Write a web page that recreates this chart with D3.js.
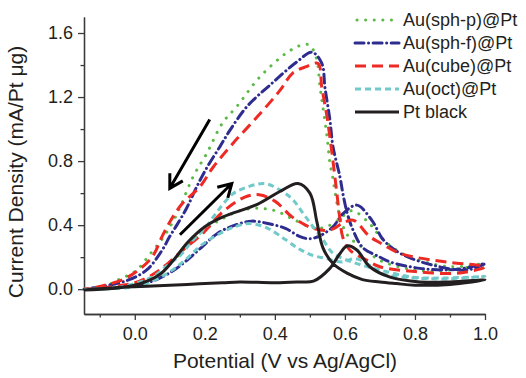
<!DOCTYPE html>
<html>
<head>
<meta charset="utf-8">
<script src="https://d3js.org/d3.v7.min.js"></script>
<style>
  body { margin: 0; background: white; }
  text { font-family: "Liberation Sans", Arial, sans-serif; fill: #231f20; }
</style>
</head>
<body>
<div id="chart"></div>
<script>
var w = 526;
var h = 378;

// series names, in legend order
var names = ["Au(sph-p)@Pt", "Au(sph-f)@Pt", "Au(cube)@Pt", "Au(oct)@Pt", "Pt black"];

// [potential, current density], forward then backward scan
var sphP = [
  [-0.145, 0.0], [-0.1, 0.005], [-0.05, 0.01], [0.0, 0.03], [0.05, 0.08], [0.1, 0.16], [0.15, 0.27],
  [0.2, 0.37], [0.25, 0.44], [0.3, 0.49], [0.35, 0.505], [0.4, 0.49], [0.45, 0.44], [0.5, 0.39],
  [0.54, 0.385], [0.58, 0.43], [0.62, 0.49], [0.67, 0.41], [0.7, 0.33], [0.75, 0.24], [0.8, 0.19],
  [0.9, 0.14], [1.0, 0.16],
  [0.9, 0.12], [0.8, 0.12], [0.7, 0.18], [0.66, 0.245], [0.61, 0.33], [0.59, 0.42], [0.577, 0.54],
  [0.565, 0.7], [0.557, 0.79], [0.549, 0.95], [0.537, 1.14], [0.529, 1.26], [0.52, 1.43], [0.505, 1.51],
  [0.49, 1.53], [0.443, 1.49], [0.357, 1.325], [0.291, 1.14], [0.251, 1.04], [0.206, 0.85],
  [0.166, 0.7], [0.129, 0.51], [0.106, 0.41], [0.077, 0.31], [0.04, 0.21], [0.006, 0.12],
  [-0.049, 0.056], [-0.094, 0.012], [-0.145, 0.0]
];

var sphF = [
  [-0.145, 0.0], [-0.1, 0.003], [-0.05, 0.008], [0.0, 0.025], [0.05, 0.05], [0.106, 0.11], [0.143, 0.17],
  [0.19, 0.26], [0.237, 0.35], [0.286, 0.4], [0.334, 0.425], [0.38, 0.41], [0.43, 0.38], [0.47, 0.33],
  [0.5, 0.315], [0.53, 0.335], [0.566, 0.39], [0.594, 0.47], [0.634, 0.525], [0.677, 0.43],
  [0.709, 0.31], [0.757, 0.225], [0.851, 0.15], [0.949, 0.12], [1.0, 0.16],
  [0.94, 0.13], [0.891, 0.12], [0.814, 0.13], [0.729, 0.17], [0.7, 0.2], [0.651, 0.26], [0.623, 0.37],
  [0.606, 0.48], [0.594, 0.6], [0.586, 0.7], [0.566, 0.89], [0.557, 1.06], [0.543, 1.26], [0.534, 1.41],
  [0.506, 1.48], [0.463, 1.42], [0.386, 1.275], [0.32, 1.14], [0.271, 0.99], [0.243, 0.89],
  [0.206, 0.76], [0.177, 0.64], [0.149, 0.51], [0.12, 0.4], [0.1, 0.33], [0.077, 0.24], [0.034, 0.12],
  [-0.02, 0.056], [-0.086, 0.02], [-0.145, 0.0]
];

var cube = [
  [-0.145, 0.0], [-0.1, 0.005], [-0.05, 0.02], [0.0, 0.04], [0.05, 0.09], [0.094, 0.16], [0.14, 0.25],
  [0.19, 0.34], [0.25, 0.48], [0.314, 0.575], [0.355, 0.59], [0.4, 0.55], [0.45, 0.45], [0.51, 0.38],
  [0.557, 0.37], [0.6, 0.42], [0.625, 0.43], [0.67, 0.33], [0.7, 0.29], [0.75, 0.23], [0.8, 0.2],
  [0.89, 0.17], [1.0, 0.14],
  [0.92, 0.1], [0.8, 0.11], [0.7, 0.14], [0.663, 0.18], [0.614, 0.245], [0.594, 0.325], [0.585, 0.45],
  [0.577, 0.6], [0.563, 0.85], [0.549, 1.075], [0.534, 1.26], [0.523, 1.41], [0.49, 1.39], [0.451, 1.35],
  [0.414, 1.24], [0.349, 1.075], [0.28, 0.91], [0.223, 0.76], [0.186, 0.64], [0.134, 0.53], [0.1, 0.42],
  [0.077, 0.325], [0.049, 0.2], [-0.02, 0.075], [-0.094, 0.02], [-0.145, 0.0]
];

var oct = [
  [-0.145, 0.0], [-0.05, 0.005], [0.02, 0.025], [0.094, 0.1], [0.143, 0.18], [0.19, 0.275], [0.237, 0.34],
  [0.286, 0.39], [0.33, 0.41], [0.38, 0.38], [0.43, 0.31], [0.47, 0.25], [0.51, 0.21], [0.55, 0.19],
  [0.59, 0.17], [0.63, 0.19], [0.67, 0.15], [0.7, 0.1], [0.8, 0.07], [0.9, 0.065], [1.0, 0.08],
  [0.891, 0.07], [0.794, 0.075], [0.7, 0.12], [0.634, 0.16], [0.566, 0.225], [0.537, 0.31], [0.509, 0.39],
  [0.48, 0.475], [0.451, 0.56], [0.414, 0.62], [0.37, 0.66], [0.3, 0.62], [0.277, 0.59], [0.237, 0.49],
  [0.2, 0.38], [0.163, 0.3], [0.134, 0.22], [0.094, 0.15], [0.049, 0.075], [-0.05, 0.01], [-0.145, 0.0]
];

var ptBlack = [
  [-0.145, -0.005], [-0.05, 0.01], [0.05, 0.02], [0.15, 0.03], [0.25, 0.04], [0.3, 0.045], [0.4, 0.04],
  [0.47, 0.045], [0.51, 0.05], [0.557, 0.13], [0.585, 0.22], [0.606, 0.27], [0.634, 0.245], [0.671, 0.14],
  [0.729, 0.075], [0.814, 0.045], [0.9, 0.045], [1.0, 0.058],
  [0.9, 0.03], [0.8, 0.025], [0.747, 0.035], [0.7, 0.045], [0.65, 0.06], [0.606, 0.1], [0.566, 0.16],
  [0.537, 0.26], [0.52, 0.42], [0.5, 0.6], [0.466, 0.66], [0.414, 0.61], [0.35, 0.53], [0.25, 0.45],
  [0.2, 0.39], [0.15, 0.29], [0.11, 0.18], [0.07, 0.09], [0.0, 0.025], [-0.145, -0.005]
];

var series = [sphP, sphF, cube, oct, ptBlack];

// scan direction arrows: [from, to] in data units
var arrows = [
  [[0.214, 1.06], [0.1, 0.63]],
  [[0.129, 0.34], [0.277, 0.66]]
];

var xTicks = [0.0, 0.2, 0.4, 0.6, 0.8, 1.0];
var xMinor = [-0.1, 0.1, 0.3, 0.5, 0.7, 0.9];
var yTicks = [0.0, 0.4, 0.8, 1.2, 1.6];
var yMinor = [0.2, 0.6, 1.0, 1.4];

var colors = ["#5cb946", "#2e2d8f", "#ee2a24", "#72c9c9", "#231f20"];
var dashes = ["0.1,8.5", "9,4.5,0.1,4.5", "11,6", "6,4", null];
var caps = ["round", "round", "butt", "butt", "butt"];

var xScale = d3.scaleLinear()
               .domain([-0.145, 1.0])
               .range([84, 485]);

var yScale = d3.scaleLinear()
               .domain([-0.155, 1.7])
               .range([314, 17]);

var canvas = d3.select("#chart")
               .append("svg")
               .attr("width", w)
               .attr("height", h);

// axes
canvas.append("g")
    .attr("transform", "translate(0, 314)")
    .call(d3.axisBottom(xScale).tickValues(xTicks).tickFormat(d3.format(".1f")).tickSize(6).tickPadding(7).tickSizeOuter(0));

canvas.append("g")
    .attr("transform", "translate(0, 314)")
    .call(d3.axisBottom(xScale).tickValues(xMinor).tickFormat("").tickSize(3.5).tickSizeOuter(0));

canvas.append("g")
    .attr("transform", "translate(84, 0)")
    .call(d3.axisLeft(yScale).tickValues(yTicks).tickFormat(d3.format(".1f")).tickSize(6).tickPadding(5).tickSizeOuter(0));

canvas.append("g")
    .attr("transform", "translate(84, 0)")
    .call(d3.axisLeft(yScale).tickValues(yMinor).tickFormat("").tickSize(3.5).tickSizeOuter(0));

canvas.selectAll(".domain, .tick line")
    .attr("stroke", "#3a3a3a")
    .attr("stroke-width", 1.3);

canvas.selectAll(".tick text")
    .style("font-size", "18px")
    .style("font-family", "'Liberation Sans', Arial, sans-serif")
    .attr("fill", "#231f20");

canvas.append("text")
    .attr("text-anchor", "middle")
    .attr("x", 285)
    .attr("y", 368)
    .style("font-size", "21px")
    .text("Potential (V vs Ag/AgCl)");

canvas.append("text")
    .attr("text-anchor", "middle")
    .attr("x", -172)
    .attr("y", 23)
    .attr("transform", "rotate(-90)")
    .style("font-size", "21px")
    .text("Current Density (mA/Pt \u03bcg)");

// curves
var line = d3.line()
    .x(d => xScale(d[0]))
    .y(d => yScale(d[1]))
    .curve(d3.curveCatmullRom.alpha(0.5));

canvas.selectAll(".cv")
    .data(series)
    .join("path")
    .attr("class", "cv")
    .attr("d", line)
    .attr("fill", "none")
    .attr("stroke", (d, i) => colors[i])
    .attr("stroke-width", 3)
    .attr("stroke-linecap", (d, i) => caps[i])
    .attr("stroke-linejoin", "round")
    .attr("stroke-dasharray", (d, i) => dashes[i]);

// arrows
arrows.forEach(function(a) {
  var x1 = xScale(a[0][0]), y1 = yScale(a[0][1]);
  var x2 = xScale(a[1][0]), y2 = yScale(a[1][1]);
  var ang = Math.atan2(y2 - y1, x2 - x1);
  var len = 15;
  var w1 = [x2 - len * Math.cos(ang - Math.PI / 6), y2 - len * Math.sin(ang - Math.PI / 6)];
  var w2 = [x2 - len * Math.cos(ang + Math.PI / 6), y2 - len * Math.sin(ang + Math.PI / 6)];
  canvas.append("path")
      .attr("d", `M${x1},${y1}L${x2},${y2}M${w1[0]},${w1[1]}L${x2},${y2}L${w2[0]},${w2[1]}`)
      .attr("fill", "none")
      .attr("stroke", "#000")
      .attr("stroke-width", 3)
      .attr("stroke-linejoin", "miter");
});

// legend
var legend = canvas.append("g")
    .attr("class", "legend")
    .attr("transform", "translate(355, 20)");

var rows = legend.selectAll("g")
    .data(names)
    .join("g")
    .attr("transform", (d, i) => `translate(0, ${i * 23})`);

rows.append("line")
    .attr("x1", (d, i) => i == 0 ? 2 : 0)
    .attr("x2", 44)
    .attr("y1", 0)
    .attr("y2", 0)
    .attr("stroke", (d, i) => colors[i])
    .attr("stroke-width", 3)
    .attr("stroke-linecap", (d, i) => caps[i])
    .attr("stroke-dasharray", (d, i) => dashes[i]);

rows.append("text")
    .attr("x", 48)
    .attr("y", 0)
    .attr("dy", "0.36em")
    .style("font-size", "18px")
    .text(d => d);
</script>
</body>
</html>
